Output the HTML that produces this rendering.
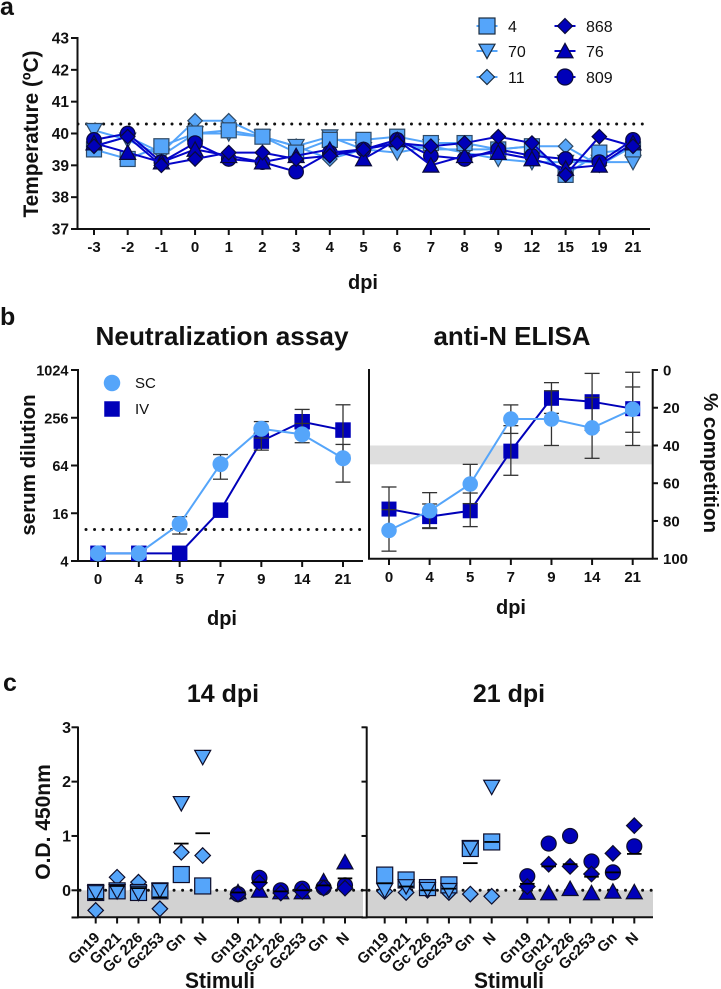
<!DOCTYPE html>
<html>
<head>
<meta charset="utf-8">
<title>Figure</title>
<style>
html,body{margin:0;padding:0;background:#fff;width:721px;height:989px;overflow:hidden}
svg{display:block;font-family:"Liberation Sans",sans-serif}
text{fill:#111}
</style>
</head>
<body>
<svg id="fig" width="721" height="989" viewBox="0 0 721 989" xmlns="http://www.w3.org/2000/svg"></svg>
<script>
// ---- panel a data ----
const tempDays = ["-3","-2","-1","0","1","2","3","4","5","6","7","8","9","12","15","19","21"];
const tempTicks = [37,38,39,40,41,42,43];
const temp11 = [39.6,39.9,39.4,40.4,40.4,39.9,39.6,39.2,39.5,39.7,39.5,39.5,39.5,39.6,39.6,39.0,39.6];
const temp70 = [40.1,39.8,39.3,40.0,40.0,39.9,39.6,39.9,39.5,39.4,39.6,39.4,39.2,39.1,39.1,39.1,39.1];
const temp4 = [39.5,39.2,39.6,40.0,40.1,39.9,39.4,39.8,39.8,39.9,39.7,39.7,39.5,39.6,38.7,39.4,39.5];
const temp809 = [39.8,40.0,39.1,39.7,39.2,39.1,38.8,39.4,39.5,39.8,39.3,39.2,39.5,39.3,39.2,39.1,39.8];
const temp76 = [39.7,39.4,39.1,39.5,39.3,39.1,39.3,39.5,39.2,39.8,39.0,39.3,39.4,39.2,38.9,39.0,39.7];
const temp868 = [39.6,39.9,39.0,39.2,39.4,39.4,39.2,39.3,39.5,39.7,39.6,39.7,39.9,39.7,38.7,39.9,39.6];
const tempThreshold = 40.3;
// ---- panel b data ----
const bDays = ["0","4","5","7","9","14","21"];
const neutTicks = [4,16,64,256,1024];
const neutSC = [5,5,11.7,66.7,186,158,79];
const neutSCHi = [5,5,14.5,88,229,217,118];
const neutSCLo = [5,5,8.75,43,142,124,39.5];
const neutIV = [5,5,5,17.5,130,228,179];
const neutIVHi = [5,5,5,17.5,165,326,373];
const neutIVLo = [5,5,5,17.5,100,159,86];
const neutThreshold = 10;
const elisaTicks = [0,20,40,60,80,100];
const elisaSC = [85,74.6,60.4,26,26,30.7,20.8];
const elisaSCHi = [74,65,50,18.5,11,14.6,1.2];
const elisaSCLo = [96,84,70.8,33.6,40,46.8,40];
const elisaIV = [73.7,77.7,74.6,43,15,16.8,20.5];
const elisaIVHi = [62,71,65.2,29.5,6.7,1.8,9];
const elisaIVLo = [85.5,83.6,83,55.8,23,32,33];
const elisaBand = [40,50];
// ---- panel c data ----
const stimuli = ["Gn19","Gn21","Gc 226","Gc253","Gn","N"];
const odTicks = [-0.5,0,1,2,3];
const odTickLabels = ["","0","1","2","3"];
const d14sq = [-0.04,-0.01,-0.04,-0.01,0.29,0.08];
const d14dn = [-0.04,-0.02,-0.05,0.0,1.6,2.45];
const d14di = [-0.37,0.24,0.15,-0.34,0.7,0.64];
const d14meanA = [-0.16,0.08,0.04,-0.13,0.86,1.05];
const d14ci = [-0.07,0.23,0.0,0.03,0.05,0.09];
const d14up = [-0.03,0.0,-0.03,-0.03,0.17,0.52];
const d14dk = [-0.07,0.14,-0.05,-0.02,0.04,0.04];
const d14meanB = [-0.04,0.15,-0.02,0.0,0.09,0.22];
const d21sq = [0.28,0.19,0.05,0.1,0.77,0.89];
const d21dn = [0.0,0.07,0.02,0.0,0.78,1.9];
const d21di = [-0.02,-0.04,0.0,-0.04,-0.07,-0.11];
const d21meanA = [0.13,0.07,0.0,0.03,0.5,0.89];
const d21ci = [0.26,0.86,1.0,0.53,0.33,0.81];
const d21up = [-0.04,-0.05,0.03,-0.05,-0.02,-0.03];
const d21dk = [0.07,0.48,0.44,0.3,0.68,1.19];
const d21meanB = [0.12,0.44,0.48,0.25,0.33,0.67];

const LIGHT = "#55a5fa", DARK = "#0000b9", INK = "#111";
const NS = "http://www.w3.org/2000/svg";
const svg = document.getElementById("fig");

function mk(tag, attrs, name){
  const el = document.createElementNS(NS, tag);
  for (const k in attrs) el.setAttribute(k, attrs[k]);
  
  
  svg.appendChild(el);
  return el;
}
function line(x1,y1,x2,y2,w,col,name,extra){
  return mk("line", Object.assign({x1:x1,y1:y1,x2:x2,y2:y2,stroke:col,"stroke-width":w}, extra||{}), name);
}
function txt(s,x,y,size,anchor,weight,name,extra){
  const t = mk("text", Object.assign({x:x,y:y,"font-size":size,"text-anchor":anchor,"font-weight":weight}, extra||{}), name);
  t.textContent = s;
  return t;
}
function dotted(x1,x2,y,name){
  return line(x1,y,x2,y,3,"#111",name,{"stroke-dasharray":"0 8.55","stroke-linecap":"round"});
}
function marker(shape,x,y,s,fill,stroke,name){
  const r = s/2, sw = stroke ? 1.2 : 0, sc = stroke || "none";
  const base = {fill:fill,stroke:sc,"stroke-width":sw};
  if (shape==="square") return mk("rect",Object.assign({x:x-r,y:y-r,width:s,height:s},base),name);
  if (shape==="circle") return mk("circle",Object.assign({cx:x,cy:y,r:r},base),name);
  if (shape==="diamond") return mk("polygon",Object.assign({points:[x,y-r,x+r,y,x,y+r,x-r,y].join(" ")},base),name);
  if (shape==="down") return mk("polygon",Object.assign({points:[x-r,y-r*0.85,x+r,y-r*0.85,x,y+r*0.95].join(" ")},base),name);
  return mk("polygon",Object.assign({points:[x-r,y+r*0.85,x+r,y+r*0.85,x,y-r*0.95].join(" ")},base),name);
}
const SQUISH = {lengthAdjust:"spacingAndGlyphs"};

// panel letters
txt("a",0,15,25,"start","bold","panel-label-a");
txt("b",0,325,25,"start","bold","panel-label-b");
txt("c",3,691,25,"start","bold","panel-label-c");

// ================= PANEL A =================
const xa = i => 94 + i*(633-94)/(tempDays.length-1);
const ya = v => 229 - (v-37)*(229-38)/6;
line(77.5,37,77.5,230,2,INK,"temperature-y-axis");
line(76.5,229,650,229,2,INK,"temperature-x-axis");
tempTicks.forEach(v=>{
  line(71,ya(v),77.5,ya(v),2,INK,"temperature-y-tick");
  txt(String(v),69,ya(v)+5.5,15.5,"end","bold","temperature-y-tick-label");
});
tempDays.forEach((d,i)=>{
  line(xa(i),229,xa(i),235,2,INK,"temperature-x-tick");
  txt(d,xa(i),252,15,"middle","bold","temperature-x-tick-label");
});
txt("Temperature (ºC)",0,0,21.5,"middle","bold","temperature-y-title",Object.assign({transform:"translate(38,134) rotate(-90)",textLength:167},SQUISH));
txt("dpi",363,289,20,"middle","bold","temperature-x-title");
dotted(78,646,ya(tempThreshold),"temperature-threshold-line");
function seriesA(vals,shape,size,col,name){
  const pts = vals.map((v,i)=>xa(i)+","+ya(v)).join(" ");
  mk("polyline",{points:pts,fill:"none",stroke:col==="L"?LIGHT:"#0505c8","stroke-width":2},name+"-line");
  vals.forEach((v,i)=>marker(shape,xa(i),ya(v),size,col==="L"?LIGHT:DARK,col==="L"?"#2f4a66":"#0a0a3a",name+"-point"));
}
seriesA(temp11,"diamond",14.5,"L","series-11");
seriesA(temp70,"down",16,"L","series-70");
seriesA(temp4,"square",15,"L","series-4");
seriesA(temp809,"circle",14.5,"D","series-809");
seriesA(temp76,"up",16,"D","series-76");
seriesA(temp868,"diamond",14.5,"D","series-868");
// legend
const legendRows = [
 ["square","4",487,26,"L"],["down","70",487,51,"L"],["diamond","11",487,77,"L"],
 ["diamond","868",565,26,"D"],["up","76",565,51,"D"],["circle","809",565,77,"D"]];
legendRows.forEach(r=>{
  const c = r[4]==="L";
  line(r[2]-10.5,r[3],r[2]+10.5,r[3],2,c?LIGHT:"#0505c8","legend-line-"+r[1]);
  marker(r[0],r[2],r[3],r[0]==="diamond"?15:16,c?LIGHT:DARK,c?"#1c2c3e":"#0a0a3a","legend-marker-"+r[1]);
  txt(r[1],r[2]+21,r[3]+6,16,"start","normal","legend-label-"+r[1]);
});

// ================= PANEL B LEFT =================
const xb = i => 98 + i*(343-98)/6;
const yb = v => 561 - Math.log2(v/4)*(561-370)/8;
line(78,369,78,562,2,INK,"neutralization-y-axis");
line(77,561,363,561,2,INK,"neutralization-x-axis");
neutTicks.forEach(v=>{
  line(71,yb(v),78,yb(v),2,INK,"neutralization-y-tick");
  txt(String(v),68.5,yb(v)+5.5,14.5,"end","bold","neutralization-y-tick-label");
});
bDays.forEach((d,i)=>{
  line(xb(i),561,xb(i),567,2,INK,"neutralization-x-tick");
  txt(d,xb(i),584,15,"middle","bold","neutralization-x-tick-label");
});
txt("Neutralization assay",222,345,26,"middle","bold","neutralization-title",Object.assign({textLength:253},SQUISH));
txt("serum dilution",0,0,20.5,"middle","bold","neutralization-y-title",{transform:"translate(35,465) rotate(-90)"});
txt("dpi",222,625,20,"middle","bold","neutralization-x-title");
dotted(86,363,yb(neutThreshold),"neutralization-threshold-line");
function errs(xf,yf,lo,hi,name){
  lo.forEach((v,i)=>{
    if (lo[i]===hi[i]) return;
    line(xf(i),yf(lo[i]),xf(i),yf(hi[i]),1.3,"#333",name+"-error-bar");
    line(xf(i)-7.5,yf(lo[i]),xf(i)+7.5,yf(lo[i]),1.3,"#333",name+"-error-cap");
    line(xf(i)-7.5,yf(hi[i]),xf(i)+7.5,yf(hi[i]),1.3,"#333",name+"-error-cap");
  });
}
function seriesB(xf,yf,vals,shape,size,col,name){
  mk("polyline",{points:vals.map((v,i)=>xf(i)+","+yf(v)).join(" "),fill:"none",stroke:col,"stroke-width":2},name+"-line");
  vals.forEach((v,i)=>marker(shape,xf(i),yf(v),size,col,null,name+"-point"));
}
seriesB(xb,yb,neutIV,"square",15.5,DARK,"neutralization-iv");
errs(xb,yb,neutIVLo,neutIVHi,"neutralization-iv");
errs(xb,yb,neutSCLo,neutSCHi,"neutralization-sc");
seriesB(xb,yb,neutSC,"circle",16,LIGHT,"neutralization-sc");
marker("circle",112,383,16.5,LIGHT,null,"legend-marker-sc");
txt("SC",135,388,15,"start","normal","legend-label-sc");
marker("square",112,409,15.5,DARK,null,"legend-marker-iv");
txt("IV",135,414,15,"start","normal","legend-label-iv");

// ================= PANEL B RIGHT =================
const xe = i => 389 + i*(632.7-389)/6;
const ye = v => 370 + v*(558.7-370)/100;
mk("rect",{x:369,y:ye(elisaBand[0]),width:283,height:ye(elisaBand[1])-ye(elisaBand[0]),fill:"#dedede"},"competition-threshold-band");
line(369,369,369,559.5,2,INK,"elisa-left-axis");
line(368,558.7,653,558.7,2,INK,"elisa-x-axis");
line(652.7,369,652.7,559.5,2,INK,"elisa-right-axis");
elisaTicks.forEach(v=>{
  line(652.7,ye(v),658,ye(v),2,INK,"elisa-y-tick");
  txt(String(v),663,ye(v)+5.5,15,"start","bold","elisa-y-tick-label");
});
bDays.forEach((d,i)=>{
  line(xe(i),558.7,xe(i),565,2,INK,"elisa-x-tick");
  txt(d,xe(i),582,15,"middle","bold","elisa-x-tick-label");
});
txt("anti-N ELISA",512,345,26,"middle","bold","elisa-title",Object.assign({textLength:157},SQUISH));
txt("% competition",0,0,20.5,"middle","bold","elisa-y-title",{transform:"translate(704,463) rotate(90)"});
txt("dpi",511,614,20,"middle","bold","elisa-x-title");
seriesB(xe,ye,elisaIV,"square",15,DARK,"elisa-iv");
errs(xe,ye,elisaIVLo,elisaIVHi,"elisa-iv");
errs(xe,ye,elisaSCLo,elisaSCHi,"elisa-sc");
seriesB(xe,ye,elisaSC,"circle",15.5,LIGHT,"elisa-sc");

// ================= PANEL C =================
const yc = v => 890.3 - v*(890.3-727.3)/3;
mk("rect",{x:78,y:yc(0),width:285,height:yc(-0.5)-yc(0),fill:"#d2d2d2"},"negative-band-14dpi");
mk("rect",{x:367,y:yc(0),width:286,height:yc(-0.5)-yc(0),fill:"#d2d2d2"},"negative-band-21dpi");
line(78,726.5,78,918.3,2,INK,"od-y-axis-14dpi");
line(77,917.3,363,917.3,2,INK,"od-x-axis-14dpi");
line(366.7,726.5,366.7,918.3,2,INK,"od-y-axis-21dpi");
line(366,917.3,653,917.3,2,INK,"od-x-axis-21dpi");
odTicks.forEach((v,i)=>{
  line(71.5,yc(v),78,yc(v),2,INK,"od-y-tick-14dpi");
  line(361.5,yc(v),366.7,yc(v),2,INK,"od-y-tick-21dpi");
  if (odTickLabels[i]) txt(odTickLabels[i],71,yc(v)+5.5,16,"end","bold","od-y-tick-label");
});
dotted(80,363,yc(0),"zero-line-14dpi");
dotted(369,652,yc(0),"zero-line-21dpi");
txt("14 dpi",223,702,25,"middle","bold","title-14dpi");
txt("21 dpi",509,702,25,"middle","bold","title-21dpi");
txt("O.D. 450nm",0,0,21,"middle","bold","od-y-title",{transform:"translate(50,822) rotate(-90)"});
txt("Stimuli",220,988,22,"middle","bold","x-title-14dpi",Object.assign({textLength:70},SQUISH));
txt("Stimuli",509,988,22,"middle","bold","x-title-21dpi",Object.assign({textLength:70},SQUISH));
function group(x0,vals,shape,size,col,name){
  vals.forEach((v,i)=>marker(shape,x0+i*21.4,yc(v),size,col,"#0d0d2a",name));
}
function means(x0,vals,name){
  vals.forEach((v,i)=>line(x0+i*21.4-7.3,yc(v),x0+i*21.4+7.3,yc(v),1.8,"#000",name));
}
function xLabels(x0,name){
  stimuli.forEach((s,i)=>{
    const x = x0+i*21.4;
    line(x,917.3,x,923.5,2,INK,name+"-tick");
    txt(s,0,0,15,"end","bold",name+"-tick-label",{transform:"translate("+(x+5)+",938.5) rotate(-45)"});
  });
}
const X14A=95.7, X14B=238, X21A=384.7, X21B=527.3;
group(X14A,d14di,"diamond",15.5,LIGHT,"d14-11-point");
group(X14A,d14sq,"square",16,LIGHT,"d14-4-point");
group(X14A,d14dn,"down",16,LIGHT,"d14-70-point");
means(X14A,d14meanA,"d14-sc-mean");
group(X14B,d14up,"up",16,DARK,"d14-76-point");
group(X14B,d14ci,"circle",15,DARK,"d14-809-point");
group(X14B,d14dk,"diamond",15.5,DARK,"d14-868-point");
means(X14B,d14meanB,"d14-iv-mean");
group(X21A,d21di,"diamond",15.5,LIGHT,"d21-11-point");
group(X21A,d21sq,"square",16,LIGHT,"d21-4-point");
group(X21A,d21dn,"down",16,LIGHT,"d21-70-point");
means(X21A,d21meanA,"d21-sc-mean");
group(X21B,d21up,"up",16,DARK,"d21-76-point");
group(X21B,d21ci,"circle",15,DARK,"d21-809-point");
group(X21B,d21dk,"diamond",15.5,DARK,"d21-868-point");
means(X21B,d21meanB,"d21-iv-mean");
xLabels(X14A,"stimuli-14dpi-sc");
xLabels(X14B,"stimuli-14dpi-iv");
xLabels(X21A,"stimuli-21dpi-sc");
xLabels(X21B,"stimuli-21dpi-iv");
</script>
</body>
</html>
